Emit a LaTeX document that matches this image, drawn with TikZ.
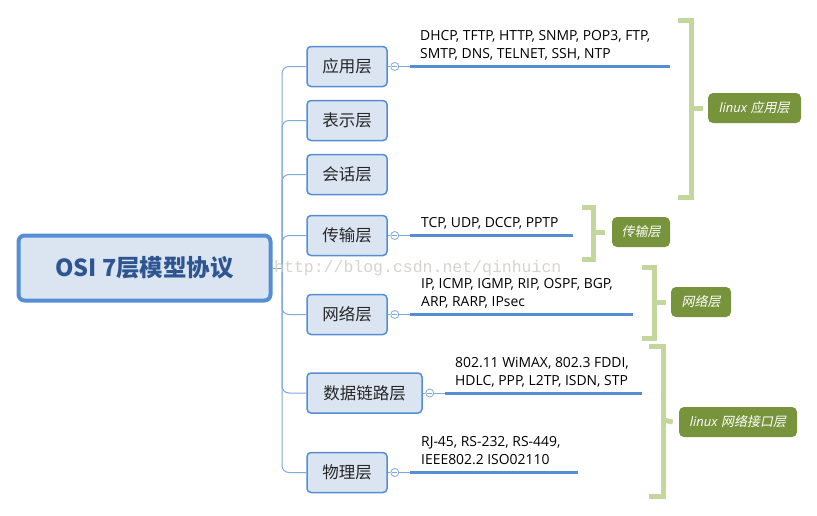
\documentclass[tikz,border=0pt]{standalone}
\usepackage{fontspec}
\setmainfont{Open Sans}
\newfontfamily\cjk{Noto Sans CJK SC}
\newfontfamily\cjkit[FakeSlant=0.2]{Noto Sans CJK SC}
\newfontfamily\wmfont{Liberation Mono}
\definecolor{nodefill}{HTML}{DBE5F1}
\definecolor{nodeedge}{HTML}{558ED5}
\definecolor{titlecol}{HTML}{2F5590}
\definecolor{treecol}{HTML}{7FA8DC}
\definecolor{topiccol}{HTML}{558ED5}
\definecolor{brackcol}{HTML}{C3D69B}
\definecolor{tagfill}{HTML}{77933C}
\definecolor{wmcol}{HTML}{D6D3CE}
\tikzset{
  mainbox/.style={draw=nodeedge, fill=nodefill, line width=4pt, rounded corners=6pt,
    minimum width=252pt, minimum height=65pt, inner sep=0pt,
    font=\cjk\bfseries\fontsize{23.5}{26}\selectfont, text=titlecol},
  layerbox/.style={draw=nodeedge, fill=nodefill, line width=1.5pt, rounded corners=4pt,
    minimum height=40pt, inner sep=0pt, font=\cjk\fontsize{16.5}{20}\selectfont, text=black!85},
  tree/.style={draw=treecol, line width=1pt},
  topic/.style={draw=topiccol, line width=3pt},
  collapse/.style={circle, draw=treecol, fill=white, line width=0.8pt, minimum size=8pt, inner sep=0pt},
  detail/.style={anchor=west, align=left, inner sep=0pt, font=\fontsize{13.9}{17.5}\selectfont, text=black},
  bracket/.style={draw=brackcol, line width=5pt},
  tag/.style={fill=tagfill, rounded corners=5pt, inner sep=0pt, minimum height=30pt, text=white,
    font=\fontsize{13}{15}\selectfont},
}
\begin{document}
\begin{tikzpicture}[x=1pt,y=-1pt]
\useasboundingbox (0,0) rectangle (817,515);

% main node
\node[mainbox] (osi) at (144.5,268) {OSI 7层模型协议};

% layer nodes
\node[layerbox, minimum width=80pt] (app) at (347,66.5) {应用层};
\node[layerbox, minimum width=80pt] (pre) at (347,120.5) {表示层};
\node[layerbox, minimum width=80pt] (ses) at (347,174.5) {会话层};
\node[layerbox, minimum width=80pt] (tra) at (347,235.5) {传输层};
\node[layerbox, minimum width=80pt] (net) at (347,314.5) {网络层};
\node[layerbox, minimum width=115pt] (dat) at (364.5,393) {数据链路层};
\node[layerbox, minimum width=80pt] (phy) at (347,472.5) {物理层};

% tree connectors
\coordinate (trunk) at (282,268);
\draw[tree] (osi.east) -- (trunk);
\foreach \n in {app,pre,ses,tra,net,dat,phy}{
  \draw[tree, rounded corners=7pt] (trunk) |- (\n.west);
}

% collapse markers and topic lines
\foreach \n/\y/\s/\e in {app/66.5/410/670, tra/235.5/410/573, net/314.5/410/633, dat/393/445/642, phy/472.5/410/578}{
  \node[collapse] (c\n) at ([xshift=7pt]\n.east) {};
  \draw[tree] (\n.east) -- (c\n.west);
  \draw[tree, line width=0.7pt] ([xshift=-2.3pt]c\n.center) -- ([xshift=2.3pt]c\n.center);
  \coordinate (s\n) at (\s,\y);
  \coordinate (e\n) at (\e,\y);
  \draw[tree] (c\n.east) -- (s\n);
  \draw[topic] (s\n) -- (e\n);
}

% detail texts
\node[detail] (tapp) at (420,45.5) {DHCP, TFTP, HTTP, SNMP, POP3, FTP,\\SMTP, DNS, TELNET, SSH, NTP};
\node[detail] (ttra) at (421,223) {TCP, UDP, DCCP, PPTP};
\node[detail] (tnet) at (421,293.5) {IP, ICMP, IGMP, RIP, OSPF, BGP,\\ARP, RARP, IPsec};
\node[detail] (tdat) at (455,372.5) {802.11 WiMAX, 802.3 FDDI,\\HDLC, PPP, L2TP, ISDN, STP};
\node[detail] (tphy) at (421,450.5) {RJ-45, RS-232, RS-449,\\IEEE802.2 ISO02110};

% tags
\node[tag, minimum width=93pt] (g1) at (754.5,108) {\itshape linux \cjkit 应用层};
\node[tag, minimum width=58pt] (g2) at (641,232) {\cjkit 传输层};
\node[tag, minimum width=60pt] (g3) at (701,302) {\cjkit 网络层};
\node[tag, minimum width=118pt] (g4) at (738,422) {\itshape linux \cjkit 网络接口层};

% brackets
\draw[bracket] (678,20) -- (691,20) -- (691,197) -- (678,197);
\draw[bracket] (691,108) -- ([xshift=-5pt]g1.west);
\draw[bracket] (582,207) -- (593,207) -- (593,259) -- (582,259);
\draw[bracket] (593,232) -- ([xshift=-7pt]g2.west);
\draw[bracket] (642,267) -- (654,267) -- (654,338) -- (642,338);
\draw[bracket] (654,302) -- ([xshift=-5pt]g3.west);
\draw[bracket] (649,346) -- (663,346) -- (663,496) -- (649,496);
\draw[bracket] (663,420) -- ([xshift=-6pt]g4.west);

% watermark
\node[anchor=west, inner sep=0pt, text=wmcol, font=\wmfont\fontsize{16.5}{18}\selectfont] (wm) at (274,268) {http://blog.csdn.net/qinhuicn};
\end{tikzpicture}
\end{document}
